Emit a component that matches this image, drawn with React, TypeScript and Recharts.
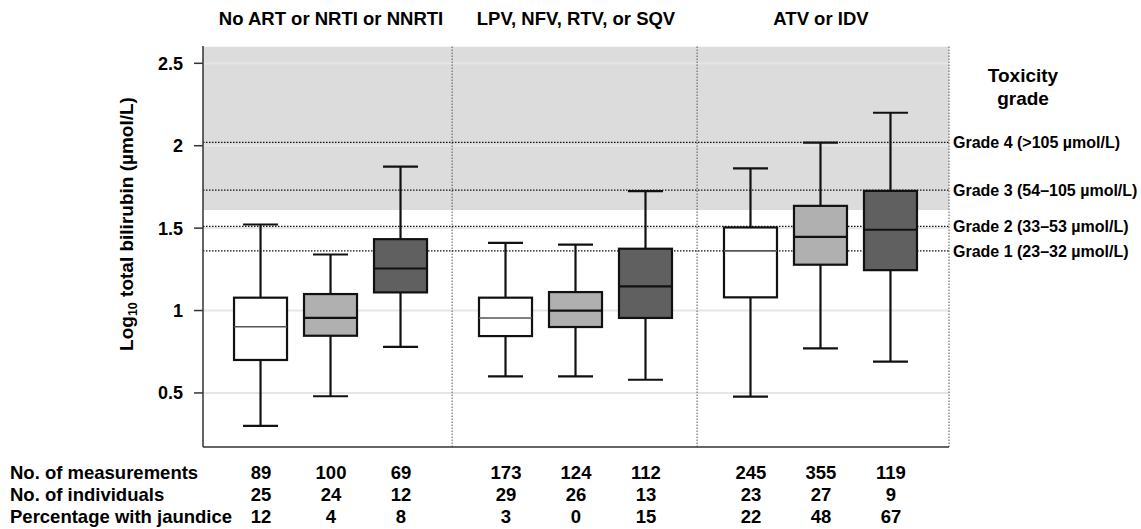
import { ComposedChart, Bar, XAxis, YAxis, ReferenceArea, ReferenceLine } from 'recharts';

// three treatment groups, three boxes each
const groupNames = ['No ART or NRTI or NNRTI', 'LPV, NFV, RTV, or SQV', 'ATV or IDV'];
const groupCenters = [2, 5.5, 9];
const boxPositions = [1, 2, 3, 4.5, 5.5, 6.5, 8, 9, 10];

// log10 bilirubin summary per box
const whiskerLow = [0.3, 0.48, 0.78, 0.6, 0.6, 0.58, 0.478, 0.77, 0.69];
const quartile1 = [0.7, 0.847, 1.11, 0.845, 0.9, 0.955, 1.08, 1.278, 1.245];
const medians = [0.902, 0.955, 1.255, 0.955, 1.0, 1.146, 1.362, 1.447, 1.49];
const quartile3 = [1.078, 1.1, 1.433, 1.078, 1.112, 1.375, 1.504, 1.635, 1.726];
const whiskerHigh = [1.522, 1.34, 1.873, 1.41, 1.4, 1.724, 1.862, 2.019, 2.2];
const boxFills = ['#ffffff', '#b0b0b0', '#606060', '#ffffff', '#b0b0b0', '#606060', '#ffffff', '#b0b0b0', '#606060'];

// table under the plot
const rowLabels = ['No. of measurements', 'No. of individuals', 'Percentage with jaundice'];
const measurements = [89, 100, 69, 173, 124, 112, 245, 355, 119];
const individuals = [25, 24, 12, 29, 26, 13, 23, 27, 9];
const jaundicePct = [12, 4, 8, 3, 0, 15, 22, 48, 67];

// toxicity grades
const gradeLevels = [2.02, 1.73, 1.51, 1.362];
const gradeLabels = ['Grade 4 (>105 µmol/L)', 'Grade 3 (54–105 µmol/L)', 'Grade 2 (33–53 µmol/L)', 'Grade 1 (23–32 µmol/L)'];
const toxicBand = [1.61, 2.6];

const yTicks = [0.5, 1, 1.5, 2, 2.5];
const yDomain = [0.172, 2.605];
const xDomain = [0.171, 10.829];
const dividers = [3.73, 7.23, 10.829];

const FONT = '"Liberation Sans", Arial, Helvetica, sans-serif';

const data = boxPositions.map((pos, i) => ({
  pos,
  lo: whiskerLow[i],
  q1: quartile1[i],
  med: medians[i],
  q3: quartile3[i],
  hi: whiskerHigh[i],
  fill: boxFills[i],
}));

function BoxShape(props: any) {
  const { x, y, width, height, payload } = props;
  if (x == null || y == null) return null;
  const top = Math.min(y, y + height);
  const span = Math.abs(height);
  const { lo, q1, med, q3, hi, fill } = payload;
  const yOf = (v: number) => top + ((hi - v) / (hi - lo)) * span;
  const cx = x + width / 2;
  const cap = width * 0.33;
  const white = fill === '#ffffff';
  return (
    <g>
      <line x1={cx} x2={cx} y1={yOf(hi)} y2={yOf(lo)} stroke="#111" strokeWidth={2.2} />
      <line x1={cx - cap} x2={cx + cap} y1={yOf(hi)} y2={yOf(hi)} stroke="#111" strokeWidth={2.2} />
      <line x1={cx - cap} x2={cx + cap} y1={yOf(lo)} y2={yOf(lo)} stroke="#111" strokeWidth={2.2} />
      <rect x={x} y={yOf(q3)} width={width} height={yOf(q1) - yOf(q3)} fill={fill} stroke="#111" strokeWidth={2.2} />
      <line
        x1={x}
        x2={x + width}
        y1={yOf(med)}
        y2={yOf(med)}
        stroke={white ? '#555' : '#111'}
        strokeWidth={white ? 1.6 : 2.2}
      />
    </g>
  );
}

function TableTick(props: any) {
  const { x, y, payload } = props;
  const i = boxPositions.indexOf(payload.value);
  if (i < 0) return null;
  return (
    <g>
      {[measurements, individuals, jaundicePct].map((row, r) => (
        <text key={r} x={x} y={y + 32 + r * 22} textAnchor="middle" fontSize={18.5} fontWeight={700} fill="#000" fontFamily={FONT}>
          {row[i]}
        </text>
      ))}
    </g>
  );
}

function GroupTick(props: any) {
  const { x, payload } = props;
  const i = groupCenters.indexOf(payload.value);
  if (i < 0) return null;
  return (
    <text x={x} y={25} textAnchor="middle" fontSize={18.5} fontWeight={700} fill="#000" fontFamily={FONT}>
      {groupNames[i]}
    </text>
  );
}

export default function App() {
  return (
    <div style={{ position: 'absolute', left: 0, top: 0, width: 1141, height: 529, background: '#fff', fontFamily: FONT }}>
      <ComposedChart width={1141} height={529} data={data} margin={{ top: 0, right: 192, bottom: 0, left: 0 }}>
        <XAxis
          xAxisId="top"
          orientation="top"
          type="number"
          dataKey="pos"
          domain={xDomain}
          ticks={groupCenters}
          height={46}
          axisLine={false}
          tickLine={false}
          tick={<GroupTick />}
          allowDataOverflow
        />
        <XAxis
          type="number"
          dataKey="pos"
          domain={xDomain}
          ticks={boxPositions}
          height={82}
          axisLine={{ stroke: '#333', strokeWidth: 1.5 }}
          tickLine={false}
          tickSize={0}
          tickMargin={0}
          tick={<TableTick />}
          allowDataOverflow
        />
        <YAxis
          type="number"
          domain={yDomain}
          ticks={yTicks}
          width={203}
          allowDataOverflow
          axisLine={{ stroke: '#333', strokeWidth: 1.5 }}
          tickLine={{ stroke: '#333', strokeWidth: 1.5 }}
          tickSize={9}
          tickMargin={11}
          tick={{ fill: '#000', fontSize: 18, fontWeight: 700, fontFamily: FONT }}
        />
        <ReferenceArea y1={toxicBand[0]} y2={toxicBand[1]} fill="#dcdcdc" fillOpacity={1} stroke="none" zIndex={-90} />
        {yTicks.map((t) => (
          <ReferenceLine key={'g' + t} y={t} stroke="#e6e6e6" strokeWidth={2} zIndex={-80} />
        ))}
        {dividers.map((d) => (
          <ReferenceLine key={'d' + d} x={d} stroke="#555" strokeWidth={1} strokeDasharray="1.5 1.5" zIndex={-70} />
        ))}
        {gradeLevels.map((g, i) => (
          <ReferenceLine
            key={'t' + g}
            y={g}
            stroke="#111"
            strokeWidth={1.3}
            strokeDasharray="1.5 1.5"
            zIndex={-70}
            label={{ value: gradeLabels[i], position: 'right', offset: 4, fill: '#000', fontSize: 16, fontWeight: 700, fontFamily: FONT }}
          />
        ))}
        <Bar
          dataKey={(d: any) => [d.lo, d.hi]}
          barSize={53}
          shape={<BoxShape />}
          isAnimationActive={false}
        />
      </ComposedChart>
      <svg width={1141} height={529} style={{ position: 'absolute', left: 0, top: 0, pointerEvents: 'none' }}>
        <g fontFamily={FONT} fontWeight={700} fill="#000">
          {rowLabels.map((r, i) => (
            <text key={r} x={10} y={479 + i * 22} fontSize={18.5}>
              {r}
            </text>
          ))}
          <text x={1023} y={82} fontSize={19} textAnchor="middle">Toxicity</text>
          <text x={1023} y={105} fontSize={19} textAnchor="middle">grade</text>
          <text transform="translate(133 224) rotate(-90)" fontSize={19} textAnchor="middle">
            Log<tspan fontSize={12.5} dy={4}>10</tspan>
            <tspan dy={-4}> total bilirubin (µmol/L)</tspan>
          </text>
        </g>
      </svg>
    </div>
  );
}
